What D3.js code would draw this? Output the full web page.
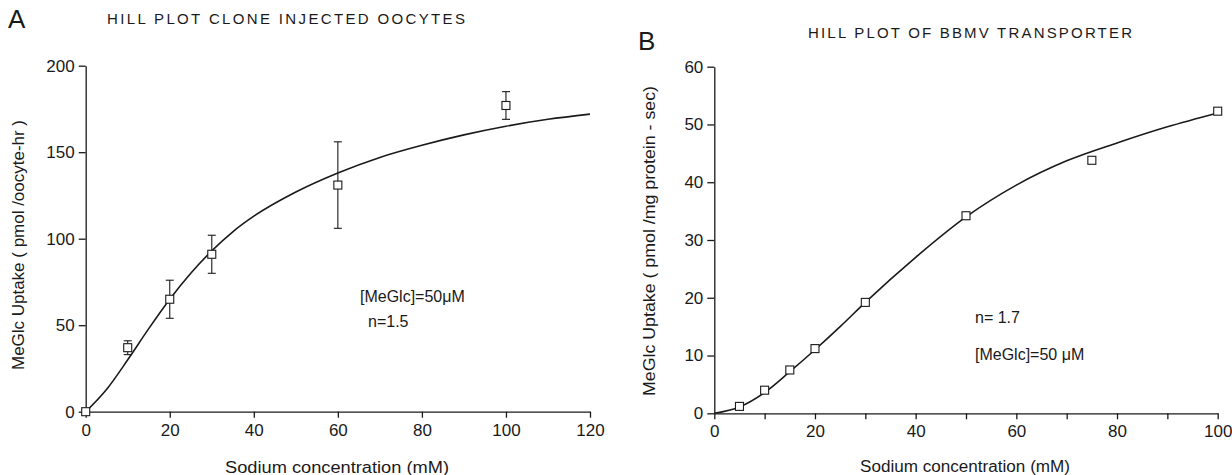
<!DOCTYPE html>
<html><head><meta charset="utf-8">
<script src="https://cdn.jsdelivr.net/npm/d3@7"></script>
<style>
body{margin:0;background:#fff}
text{font-family:"Liberation Sans",Arial,sans-serif;fill:#1a1a1a}
</style>
</head><body><svg id="c" width="1232" height="475"></svg>
<script>
// ---- Panel A data ----
const aPointX = [0, 10, 20, 30, 60, 100];
const aPointY = [0, 37, 65, 91, 131, 177];
const aPointErr = [0, 4, 11, 11, 25, 8];
const aCurveX = [0, 5, 10, 15, 20, 25, 30, 35, 40, 50, 60, 70, 80, 90, 100, 110, 120];
const aCurveY = [0, 13, 30, 48, 65, 80, 93, 104, 113, 127, 138, 147, 154, 160, 165, 169, 172];
const aXTicks = [0, 20, 40, 60, 80, 100, 120];
const aYTicks = [0, 50, 100, 150, 200];
// ---- Panel B data ----
const bPointX = [5, 10, 15, 20, 30, 50, 75, 100];
const bPointY = [1.2, 4, 7.5, 11.2, 19.2, 34.2, 43.8, 52.3];
const bCurveX = [0, 5, 10, 15, 20, 25, 30, 40, 50, 60, 70, 80, 90, 100];
const bCurveY = [0, 1.1, 3.6, 7.2, 11, 15, 19.2, 27, 34, 39.5, 43.7, 46.8, 49.6, 52];
const bXTicks = [0, 10, 20, 30, 40, 50, 60, 70, 80, 90, 100];
const bXLabels = [0, 20, 40, 60, 80, 100];
const bYTicks = [0, 10, 20, 30, 40, 50, 60];

const svg = d3.select("#c");
const ink = "#1a1a1a";

function panel(o) {
  const x = d3.scaleLinear().domain(o.xDomain).range(o.xRange);
  const y = d3.scaleLinear().domain(o.yDomain).range(o.yRange);
  const g = svg.append("g");

  const xa = d3.axisBottom(x).tickValues(o.xTicks).tickSize(6).tickPadding(6).tickSizeOuter(0)
    .tickFormat(d => o.xLabels.includes(d) ? d : "");
  const ya = d3.axisLeft(y).tickValues(o.yTicks).tickSize(7).tickPadding(4).tickSizeOuter(0);

  const gx = g.append("g").attr("transform", `translate(0,${o.yRange[0]})`).call(xa);
  const gy = g.append("g").attr("transform", `translate(${o.xRange[0]},0)`).call(ya);
  [gx, gy].forEach(a => {
    a.selectAll("path,line").attr("stroke", ink).attr("stroke-width", 1.3);
    a.selectAll("text").attr("font-size", 17).attr("fill", ink)
      .style("font-family", '"Liberation Sans",Arial,sans-serif');
  });

  // fitted curve
  const pts = o.curveX.map((v, i) => [v, o.curveY[i]]);
  g.append("path").datum(pts)
    .attr("d", d3.line().x(d => x(d[0])).y(d => y(d[1])).curve(d3.curveMonotoneX))
    .attr("fill", "none").attr("stroke", ink).attr("stroke-width", 1.6);

  // error bars
  if (o.err) {
    o.px.forEach((v, i) => {
      const e = o.err[i];
      if (!e) return;
      const cx = x(v), y1 = y(o.py[i] + e), y2 = y(o.py[i] - e);
      g.append("line").attr("x1", cx).attr("x2", cx).attr("y1", y1).attr("y2", y2)
        .attr("stroke", ink).attr("stroke-width", 1.1);
      [y1, y2].forEach(yy => g.append("line").attr("x1", cx - 4).attr("x2", cx + 4)
        .attr("y1", yy).attr("y2", yy).attr("stroke", ink).attr("stroke-width", 1.1));
    });
  }
  // square markers
  const s = 8;
  g.selectAll("rect.pt").data(o.px.map((v, i) => [v, o.py[i]])).enter().append("rect")
    .attr("x", d => x(d[0]) - s / 2).attr("y", d => y(d[1]) - s / 2)
    .attr("width", s).attr("height", s)
    .attr("fill", "#fff").attr("stroke", ink).attr("stroke-width", 1.1);

  // texts
  g.append("text").attr("x", o.letter[0]).attr("y", o.letter[1]).attr("font-size", 26).text(o.letter[2]);
  g.append("text").attr("x", o.title[0]).attr("y", o.title[1]).attr("font-size", 15)
    .attr("textLength", o.title[2]).attr("lengthAdjust", "spacing").text(o.title[3]);
  g.append("text").attr("x", o.xTitle[0]).attr("y", o.xTitle[1]).attr("font-size", 16)
    .attr("text-anchor", "middle").attr("textLength", o.xTitle[2]).attr("lengthAdjust", "spacingAndGlyphs")
    .text("Sodium concentration (mM)");
  g.append("text").attr("transform", `translate(${o.yTitle[0]},${o.yTitle[1]}) rotate(-90)`)
    .attr("font-size", 16).attr("text-anchor", "middle")
    .attr("textLength", o.yTitle[2]).attr("lengthAdjust", "spacingAndGlyphs").text(o.yTitle[3]);
  o.notes.forEach(n => g.append("text").attr("x", n[0]).attr("y", n[1]).attr("font-size", 16).text(n[2]));
}

panel({
  xDomain: [0, 120], xRange: [85.7, 590], yDomain: [0, 200], yRange: [411.7, 65.7],
  xTicks: aXTicks, xLabels: aXTicks, yTicks: aYTicks,
  curveX: aCurveX, curveY: aCurveY, px: aPointX, py: aPointY, err: aPointErr,
  letter: [8, 28, "A"],
  title: [107, 24, 358, "HILL PLOT  CLONE INJECTED OOCYTES"],
  xTitle: [337, 473, 224],
  yTitle: [24, 245, 250, "MeGlc  Uptake  ( pmol /oocyte-hr )"],
  notes: [[360, 302, "[MeGlc]=50μM"], [368, 327, "n=1.5"]]
});

panel({
  xDomain: [0, 100], xRange: [714.3, 1217.7], yDomain: [0, 60], yRange: [413.3, 66.7],
  xTicks: bXTicks, xLabels: bXLabels, yTicks: bYTicks,
  curveX: bCurveX, curveY: bCurveY, px: bPointX, py: bPointY, err: null,
  letter: [638, 50, "B"],
  title: [808, 38, 324, "HILL PLOT OF BBMV TRANSPORTER"],
  xTitle: [965, 472, 210],
  yTitle: [655, 241, 310, "MeGlc  Uptake ( pmol /mg protein - sec)"],
  notes: [[975, 323, "n=  1.7"], [975, 360, "[MeGlc]=50 μM"]]
});
</script>
</body></html>
